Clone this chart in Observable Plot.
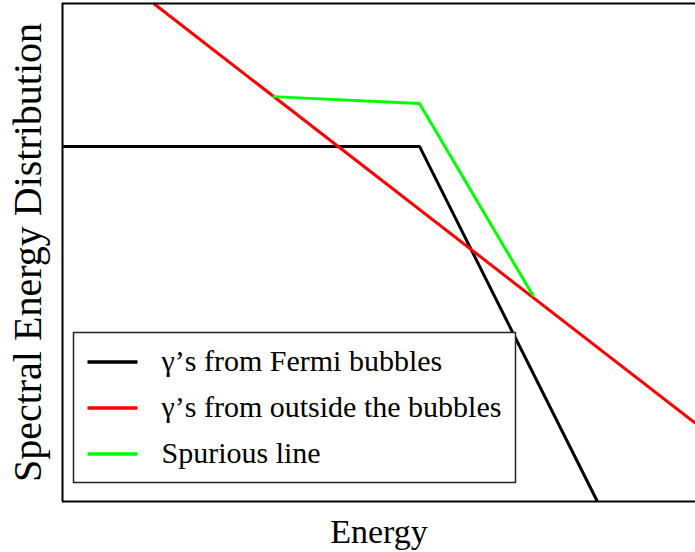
<!DOCTYPE html>
<html>
<head>
<meta charset="utf-8">
<script src="https://cdn.jsdelivr.net/npm/d3@7"></script>
<script src="https://cdn.jsdelivr.net/npm/@observablehq/plot@0.6"></script>
<style>
  html, body { margin: 0; padding: 0; background: #fff; }
</style>
</head>
<body>
<div id="wrap"></div>
<script>
// ---- data ----
const seriesNames = ["γ’s from Fermi bubbles", "γ’s from outside the bubbles", "Spurious line"];
const seriesColors = ["#000000", "#ff0000", "#00ff00"];
const fermiX = [0, 56.4, 84.5];
const fermiY = [71.3, 71.3, 0];
const outsideX = [14.4, 100];
const outsideY = [100, 15.7];
const spuriousX = [33.2, 56.4, 74.4];
const spuriousY = [81.3, 79.9, 41.2];
const xDomain = [0, 100];
const yDomain = [0, 100];
const xLabel = "Energy";
const yLabel = "Spectral Energy Distribution";

const serif = '"Liberation Serif", "Times New Roman", serif';
const toRows = (xs, ys) => xs.map((x, i) => ({x, y: ys[i]}));
const fermi = toRows(fermiX, fermiY);
const outside = toRows(outsideX, outsideY);
const spurious = toRows(spuriousX, spuriousY);

const legendText = (i) => Plot.text([seriesNames[i]], {
  text: d => d, frameAnchor: "left", textAnchor: "start", lineAnchor: "bottom",
  dx: 99, dy: 118 + i * 46, fontSize: 30, fontFamily: "Liberation Serif", fontWeight: "normal", fill: "#000"
});

const chart = Plot.plot({
  width: 695,
  height: 552,
  marginLeft: 62,
  marginRight: 0,
  marginTop: 3,
  marginBottom: 51,
  style: { fontFamily: serif, background: "#fff", overflow: "visible" },
  x: { domain: xDomain, axis: null },
  y: { domain: yDomain, axis: null },
  marks: [
    Plot.line(fermi, {x: "x", y: "y", stroke: seriesColors[0], strokeWidth: 3, strokeLinecap: "butt", strokeLinejoin: "miter"}),
    Plot.line(outside, {x: "x", y: "y", stroke: seriesColors[1], strokeWidth: 3, strokeLinecap: "butt"}),
    Plot.line(spurious, {x: "x", y: "y", stroke: seriesColors[2], strokeWidth: 3, strokeLinecap: "butt", strokeLinejoin: "miter"}),
    Plot.ruleX([xDomain[0]], {stroke: "#000", strokeWidth: 2}),
    Plot.ruleY([yDomain[0], yDomain[1]], {stroke: "#000", strokeWidth: 2}),
    Plot.text([xLabel], {text: d => d, frameAnchor: "bottom", textAnchor: "middle", lineAnchor: "top", dy: 17, fontSize: 34, fill: "#000"}),
    Plot.text([yLabel], {text: d => d, frameAnchor: "left", textAnchor: "middle", lineAnchor: "bottom", rotate: -90, dx: -22, fontSize: 40, fill: "#000"}),
    legendText(0),
    legendText(1),
    legendText(2)
  ]
});
document.getElementById("wrap").appendChild(chart);

// legend box + swatches, inserted beneath the legend labels
const textGroups = chart.querySelectorAll('g[aria-label="text"]');
const firstLegendText = textGroups[2];
const boxNode = document.createElementNS("http://www.w3.org/2000/svg", "g");
chart.insertBefore(boxNode, firstLegendText);
const lg = d3.select(boxNode).attr("transform", "translate(73.5,332.5)");
lg.append("rect").attr("width", 442).attr("height", 150)
  .attr("fill", "#fff").attr("stroke", "#222").attr("stroke-width", 1.5);
lg.selectAll("line").data(seriesNames).join("line")
  .attr("x1", 14).attr("x2", 64)
  .attr("y1", (d, i) => 29.5 + i * 46).attr("y2", (d, i) => 29.5 + i * 46)
  .attr("stroke", (d, i) => seriesColors[i]).attr("stroke-width", 3.5);
</script>
</body>
</html>
